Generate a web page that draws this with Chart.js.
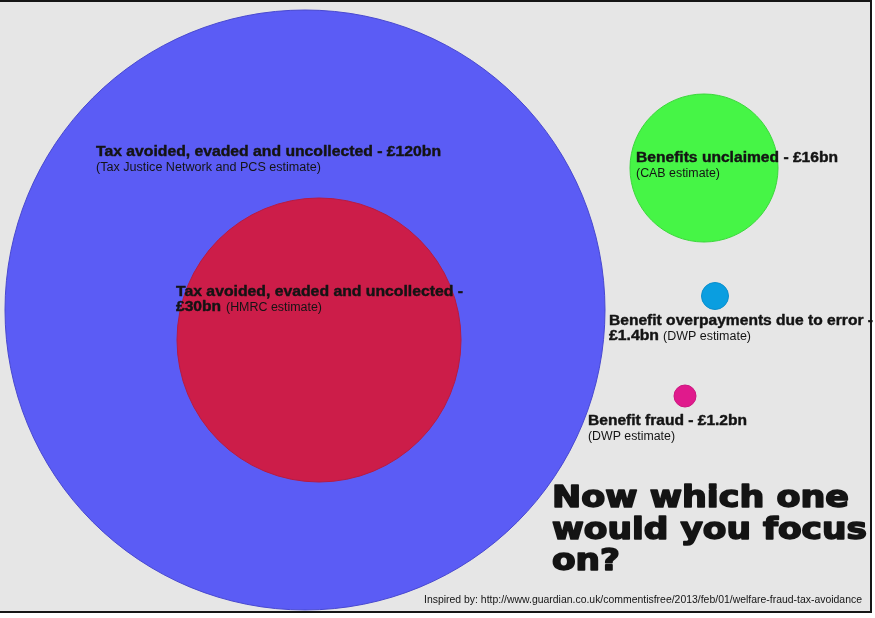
<!DOCTYPE html>
<html>
<head>
<meta charset="utf-8">
<script src="https://cdn.jsdelivr.net/npm/chart.js@4"></script>
<style>
  html, body { margin: 0; padding: 0; background: #ffffff; }
  #wrap { width: 875px; height: 618px; }
</style>
</head>
<body>
<div id="wrap"><canvas id="bubbleChart" width="875" height="618"></canvas></div>
<script>
// data
const categories = [
    'Tax avoided, evaded and uncollected (TJN/PCS)',
    'Tax avoided, evaded and uncollected (HMRC)',
    'Benefits unclaimed',
    'Benefit overpayments due to error',
    'Benefit fraud'
];
const amountsBn = [120, 30, 16, 1.4, 1.2];
const sources = ['Tax Justice Network and PCS estimate', 'HMRC estimate', 'CAB estimate', 'DWP estimate', 'DWP estimate'];
const bubbleX = [305, 319, 704, 715, 685];
const bubbleY = [310, 340, 168, 296, 396];
const bubbleR = [300, 142, 74, 13.5, 11];
const bubbleColors = ['#5b5cf5', '#cc1d49', '#46f546', '#0a9ee0', '#e01a8c'];
const bubbleEdges = ['#4848d0', '#b81a42', '#3ad83a', '#0a8ecc', '#cc1780'];

const titleLines = ['Now which one', 'would you focus', 'on?'];
const footerText = 'Inspired by: http://www.guardian.co.uk/commentisfree/2013/feb/01/welfare-fraud-tax-avoidance';

document.addEventListener('DOMContentLoaded', function () {
    const ctx = document.getElementById('bubbleChart').getContext('2d');

    const points = bubbleX.map((x, i) => ({ x: x, y: bubbleY[i], r: bubbleR[i] }));

    // draw a string squeezed/stretched to a target width, optional stroke to thicken it
    function fitText(c, text, x, y, font, width, thick) {
        c.save();
        c.font = font;
        const w = c.measureText(text).width;
        const s = width ? width / w : 1;
        c.translate(x, y);
        c.scale(s, 1);
        c.fillText(text, 0, 0);
        if (thick) {
            c.strokeStyle = c.fillStyle;
            c.lineWidth = thick;
            c.lineJoin = 'round';
            c.strokeText(text, 0, 0);
        }
        c.restore();
    }

    const BOLD = 'bold 14px "Liberation Sans", Arial, sans-serif';
    const NORM = '12px "Liberation Sans", Arial, sans-serif';
    const HEAVY = 'bold 30px "DejaVu Sans", sans-serif';

    const backdrop = {
        id: 'backdrop',
        beforeDraw(chart) {
            const c = chart.ctx;
            c.save();
            c.fillStyle = '#e6e6e6';
            c.fillRect(0, 0, 872, 612);
            c.strokeStyle = '#161616';
            c.lineWidth = 2;
            c.beginPath();
            c.moveTo(0, 1);
            c.lineTo(871, 1);
            c.lineTo(871, 612);
            c.lineTo(0, 612);
            c.stroke();
            c.restore();
        }
    };

    const labels = {
        id: 'labels',
        afterDatasetsDraw(chart) {
            const c = chart.ctx;
            c.save();
            c.fillStyle = '#141414';
            c.textBaseline = 'alphabetic';

            fitText(c, 'Tax avoided, evaded and uncollected - £' + amountsBn[0] + 'bn', 96, 156, BOLD, 345, 0.4);
            fitText(c, '(' + sources[0] + ')', 96, 171, NORM, 225);

            fitText(c, 'Tax avoided, evaded and uncollected -', 176, 296, BOLD, 287, 0.4);
            fitText(c, '£' + amountsBn[1] + 'bn', 176, 311, BOLD, 45, 0.4);
            fitText(c, '(' + sources[1] + ')', 226, 311, NORM, 96);

            fitText(c, 'Benefits unclaimed - £' + amountsBn[2] + 'bn', 636, 162, BOLD, 202, 0.4);
            fitText(c, '(' + sources[2] + ')', 636, 177, NORM, 84);

            fitText(c, 'Benefit overpayments due to error -', 609, 325, BOLD, 264, 0.4);
            fitText(c, '£' + amountsBn[3] + 'bn', 609, 340, BOLD, 50, 0.4);
            fitText(c, '(' + sources[3] + ')', 663, 340, NORM, 88);

            fitText(c, 'Benefit fraud - £' + amountsBn[4] + 'bn', 588, 425, BOLD, 159, 0.4);
            fitText(c, '(' + sources[4] + ')', 588, 440, NORM, 87);

            const titleWidths = [297, 315, 68];
            const titleBase = [507, 539, 570];
            titleLines.forEach((t, i) => fitText(c, t, 552, titleBase[i], HEAVY, titleWidths[i], 1.6));

            fitText(c, footerText, 424, 603, '10px "Liberation Sans", Arial, sans-serif', 438);
            c.restore();
        }
    };

    new Chart(ctx, {
        type: 'bubble',
        data: {
            labels: categories,
            datasets: [{
                label: 'Amount (£bn)',
                data: points,
                backgroundColor: bubbleColors,
                borderColor: bubbleEdges,
                borderWidth: 1,
                hoverRadius: 0,
                clip: false
            }]
        },
        options: {
            responsive: false,
            animation: false,
            layout: { autoPadding: false, padding: 0 },
            plugins: {
                legend: { display: false },
                tooltip: { enabled: false }
            },
            scales: {
                x: { type: 'linear', min: 0, max: 875, display: false },
                y: { type: 'linear', min: 0, max: 618, reverse: true, display: false }
            }
        },
        plugins: [backdrop, labels]
    });
});
</script>
</body>
</html>
